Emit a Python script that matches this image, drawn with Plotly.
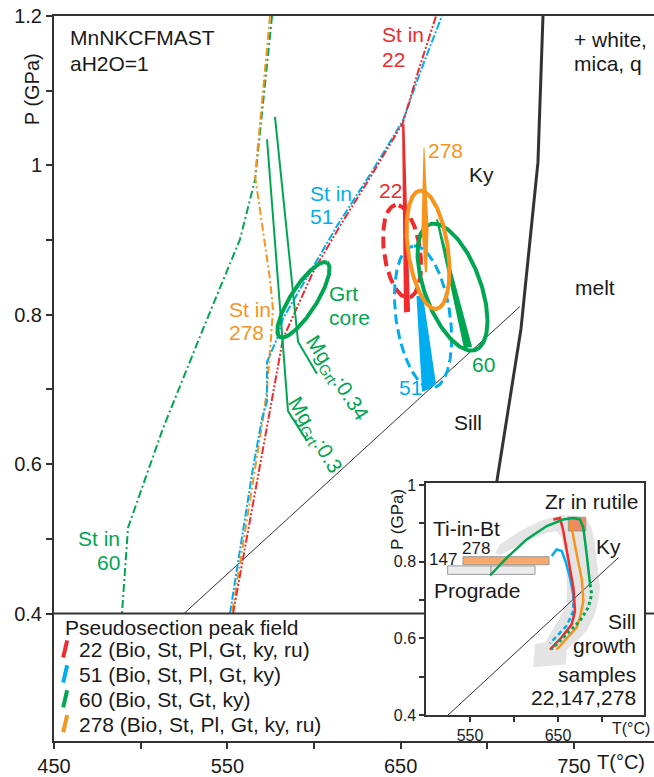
import numpy as np
import plotly.graph_objects as go

# ---------------- data (T in °C, P in GPa) ----------------
# staurolite-in curves
st22_T = [553.3, 582.1, 599.4, 615.0, 633.5, 651.3, 660.0, 670.4]
st22_P = [0.40, 0.768, 0.857, 0.919, 0.988, 1.057, 1.125, 1.20]
st51_T = [551.5, 564.8, 570.0, 572.9, 572.9, 578.7, 582.1, 598.8, 613.8, 633.5, 651.3, 662.3, 673.8]
st51_P = [0.40, 0.595, 0.661, 0.684, 0.737, 0.768, 0.795, 0.861, 0.921, 0.992, 1.060, 1.131, 1.20]
st278_T = [574.6, 570.0, 566.0, 567.1, 570.6, 574.6, 576.3, 575.2, 572.9, 570.6, 552.7]
st278_P = [1.20, 1.088, 0.985, 0.968, 0.911, 0.848, 0.808, 0.768, 0.701, 0.661, 0.40]
st60_T = [575.8, 570.6, 566.0, 557.3, 536.0, 512.9, 492.7, 489.2]
st60_P = [1.20, 1.088, 0.981, 0.901, 0.781, 0.648, 0.515, 0.40]

# garnet Mg isopleths
mg034_T = [577.5, 590.8, 601.7]
mg034_P = [1.065, 0.764, 0.721]
mg030_T = [572.9, 585.0, 596.0]
mg030_P = [1.035, 0.671, 0.631]

# melt-in and Ky/Sill boundaries
melt_T = [732.1, 729.2, 719.4, 705.3]
melt_P = [1.20, 1.004, 0.781, 0.574]
kysill_T = [525.0, 718.8]
kysill_P = [0.40, 0.811]

# peak-field wedges (polygons)
bar22_T = [650.8, 652.2, 655.4, 651.9]
bar22_P = [1.055, 1.055, 0.804, 0.803]
bar278_T = [663.2, 663.7, 666.1, 665.2, 664.0, 662.0]
bar278_P = [1.024, 1.024, 0.915, 0.857, 0.857, 0.915]
bar60_T = [670.4, 671.5, 691.2, 686.5]
bar60_P = [0.928, 0.928, 0.757, 0.755]
bar51_T = [659.1, 662.9, 670.4, 665.8, 662.3]
bar51_P = [0.825, 0.825, 0.707, 0.700, 0.697]

# ellipses: centre T, centre P, semi-major, semi-minor (°C equivalent), tilt (deg)
ell_grt = (593.9, 0.820, 25.5, 7.5, 57.5)
ell_22 = (650.8, 0.885, 27.1, 10.4, 98.0)
ell_278 = (665.8, 0.887, 34.6, 11.5, 98.0)
ell_60 = (679.9, 0.837, 38.7, 16.2, 110.0)
ell_51 = (662.9, 0.797, 41.5, 15.6, 98.0)

# legend rows
leg_labels = ["22 (Bio, St, Pl, Gt, ky, ru)", "51 (Bio, St, Pl, Gt, ky)",
              "60 (Bio, St, Gt, ky)", "278 (Bio, St, Pl, Gt, ky, ru)"]
leg_P = [0.352, 0.3187, 0.2853, 0.252]

# ---------------- inset data ----------------
in22_T = [644.7, 652.3, 656.0, 661.7, 667.4, 669.3, 665.6, 654.2, 640.9]
in22_P = [0.910, 0.914, 0.880, 0.802, 0.733, 0.672, 0.637, 0.603, 0.571]
in278_T = [663.6, 665.6, 671.3, 677.0, 678.8, 675.0, 671.3, 659.9, 648.5]
in278_P = [0.906, 0.888, 0.819, 0.754, 0.698, 0.655, 0.629, 0.600, 0.571]
in51_T = [642.8, 648.5, 654.2, 659.1, 663.6, 667.4]
in51_P = [0.815, 0.832, 0.828, 0.797, 0.758, 0.714]
in51d_T = [667.4, 667.4, 660.2, 650.0, 640.9]
in51d_P = [0.714, 0.672, 0.634, 0.608, 0.587]
in60_T = [572.7, 591.7, 614.4, 637.2, 655.7, 667.4, 675.0, 678.8, 682.6, 686.4]
in60_P = [0.764, 0.810, 0.858, 0.893, 0.910, 0.914, 0.910, 0.888, 0.819, 0.741]
in60d_T = [686.4, 688.3, 684.4, 675.0, 659.9, 642.8]
in60d_P = [0.741, 0.715, 0.681, 0.646, 0.611, 0.572]

band_T = [578.4, 584.1, 606.8, 629.5, 652.3, 671.3, 682.6, 688.3, 692.0, 695.8, 697.7, 695.8,
          692.0, 682.6, 671.3, 660.0, 659.0, 621.5, 624.0, 635.2, 643.2, 652.3, 659.9, 659.9,
          658.0, 654.2, 648.5, 637.2, 618.2, 599.2, 584.1]
band_P = [0.823, 0.845, 0.880, 0.906, 0.921, 0.919, 0.910, 0.888, 0.845, 0.776, 0.733, 0.698,
          0.663, 0.620, 0.594, 0.571, 0.532, 0.525, 0.585, 0.590, 0.621, 0.655, 0.689, 0.758,
          0.819, 0.862, 0.880, 0.875, 0.858, 0.836, 0.817]

tibt278_T = [542.0, 639.8]
tibt278_P = [0.792, 0.813]
tibt147a_T = [524.6, 573.9]
tibt147b_T = [573.9, 623.9]
tibt147_P = [0.767, 0.789]
zr_T = [661.7, 681.5]
zr_P = [0.880, 0.916]

# ---------------- styling ----------------
RED = "#EF2B2D"
BLUE = "#00AEEF"
GREEN = "#00A651"
ORANGE = "#F7941D"
DARK = "#333333"
FONT = "Arial, Liberation Sans, Helvetica, sans-serif"
FS = 21

W, H = 654, 777
ML, MR, MT, MB = 54, 0, 16, 33
PW, PH = W - ML - MR, H - MT - MB
x_range = [450, 796.15]
y_range = [0.2293, 1.2]
kx = PW / (x_range[1] - x_range[0])
ky = PH / (y_range[1] - y_range[0])

fig = go.Figure()


def line(T, P, color, width=2, dash="solid", xa="x", ya="y"):
    fig.add_trace(go.Scatter(x=T, y=P, mode="lines", xaxis=xa, yaxis=ya,
                             line=dict(color=color, width=width, dash=dash),
                             hoverinfo="skip", showlegend=False))


def poly(T, P, color, xa="x", ya="y", lc=None, lw=0):
    fig.add_trace(go.Scatter(x=list(T) + [T[0]], y=list(P) + [P[0]], mode="lines",
                             xaxis=xa, yaxis=ya, fill="toself", fillcolor=color,
                             line=dict(color=lc or color, width=lw),
                             hoverinfo="skip", showlegend=False))


def rect(T2, P2, color, xa="x2", ya="y2"):
    poly([T2[0], T2[1], T2[1], T2[0]], [P2[0], P2[0], P2[1], P2[1]], color,
         xa, ya, lc="#9a9a9a", lw=1)


def ellipse(e, color, width=4, dash="solid"):
    tc, pc, a, b, ang = e
    t = np.linspace(0, 2 * np.pi, 200)
    th = np.radians(ang)
    ap, bp = a * kx, b * kx
    dx = ap * np.cos(t) * np.cos(th) - bp * np.sin(t) * np.sin(th)
    dy = ap * np.cos(t) * np.sin(th) + bp * np.sin(t) * np.cos(th)
    line(tc + dx / kx, pc + dy / ky, color, width, dash)


# main boundaries
line(kysill_T, kysill_P, DARK, 1)
line(melt_T, melt_P, DARK, 3)

# St-in lines
line(st60_T, st60_P, GREEN, 2, "8px,3px,2px,3px")
line(st278_T, st278_P, ORANGE, 2, "8px,3px,2px,3px")
line(st51_T, st51_P, BLUE, 2, "8px,2px,2px,2px")
line(st22_T, st22_P, RED, 2, "8px,2px,2px,2px,2px,2px")

# Mg isopleths
line(mg034_T, mg034_P, GREEN, 2)
line(mg030_T, mg030_P, GREEN, 2)

# garnet core ellipse
ellipse(ell_grt, GREEN, 4)

# peak fields
ellipse(ell_22, RED, 4, "12px,6px")
ellipse(ell_51, BLUE, 3, "10px,5px")
poly(bar51_T, bar51_P, BLUE)
poly(bar22_T, bar22_P, RED)
ellipse(ell_60, GREEN, 4)
poly(bar60_T, bar60_P, GREEN)
ellipse(ell_278, ORANGE, 4)
poly(bar278_T, bar278_P, ORANGE)

# legend glyphs
for Pc, c in zip(leg_P, [RED, BLUE, GREEN, ORANGE]):
    line([455.3, 457.6], [Pc - 0.011, Pc + 0.012], c, 4)

# ---------------- inset ----------------
poly(band_T, band_P, "#e4e4e4", "x2", "y2")
line(kysill_T, kysill_P, DARK, 1, xa="x2", ya="y2")
rect(tibt147a_T, tibt147_P, "#ececec")
rect(tibt147b_T, tibt147_P, "#ececec")
rect(tibt278_T, tibt278_P, "#F7A86C")
rect(zr_T, zr_P, "#EE8A66")
line(in51_T, in51_P, BLUE, 2.5, xa="x2", ya="y2")
line(in51d_T, in51d_P, BLUE, 2.5, "5px,3px", xa="x2", ya="y2")
line(in22_T, in22_P, RED, 2.5, xa="x2", ya="y2")
line(in278_T, in278_P, ORANGE, 2.5, xa="x2", ya="y2")
line(in60_T, in60_P, GREEN, 2.5, xa="x2", ya="y2")
line(in60d_T, in60d_P, GREEN, 3, "dot", xa="x2", ya="y2")

# ---------------- annotations ----------------
anns = []


def ann(text, x, y, color="#1a1a1a", size=FS, xanchor="center", xref="x", yref="y", angle=0):
    anns.append(dict(text=text, x=x, y=y, xref=xref, yref=yref, showarrow=False,
                     xanchor=xanchor, yanchor="middle", textangle=angle,
                     font=dict(family=FONT, size=size, color=color)))


ann("MnNKCFMAST", 458.1, 1.1713, xanchor="left")
ann("aH2O=1", 458.1, 1.137, xanchor="left")
ann("+ white,", 748.8, 1.168, xanchor="left")
ann("mica, q", 748.8, 1.137, xanchor="left")
ann("St in", 638.1, 1.1747, RED, xanchor="left")
ann("22", 638.1, 1.1413, RED, xanchor="left")
ann("Ky", 696.9, 0.988)
ann("melt", 762.1, 0.836)
ann("Sill", 688.8, 0.656)
ann("St in", 596.5, 0.9627, BLUE, xanchor="left")
ann("51", 596.5, 0.932, BLUE, xanchor="left")
ann("St in", 549.8, 0.8073, ORANGE, xanchor="left")
ann("278", 549.8, 0.776, ORANGE, xanchor="left")
ann("St in", 489.2, 0.50, GREEN, xanchor="right")
ann("60", 489.2, 0.468, GREEN, xanchor="right")
ann("Grt", 607.5, 0.828, GREEN, xanchor="left")
ann("core", 607.5, 0.796, GREEN, xanchor="left")
ann("22", 644.4, 0.9667, RED)
ann("278", 675.6, 1.02, ORANGE)
ann("51", 655.4, 0.7027, BLUE)
ann("60", 697.5, 0.7333, GREEN)
ann("Mg<sub>Grt</sub>:0.34", 612.7, 0.7147, GREEN, angle=57)
ann("Mg<sub>Grt</sub>:0.3", 600.0, 0.6387, GREEN, angle=59)
ann("Pseudosection peak field", 455.2, 0.3813, xanchor="left")
for lab, Pc in zip(leg_labels, leg_P):
    ann(lab, 463.3, Pc, xanchor="left")

ann("P (GPa)", -0.0375, 0.8984, size=20, xref="paper", yref="paper", angle=-90)
ann("T(°C)", 0.9458, -0.0288, size=20, xref="paper", yref="paper")
ann("P (GPa)", 0.5733, 0.3063, size=17, xref="paper", yref="paper", angle=-90)
ann("T(°C)", 0.9617, 0.0172, size=16, xref="paper", yref="paper")

ann("Zr in rutile", 687.5, 0.9558, xref="x2", yref="y2")
ann("Ti-in-Bt", 545.5, 0.8857, xref="x2", yref="y2")
ann("278", 556.8, 0.8338, size=17, xref="x2", yref="y2")
ann("147", 519.3, 0.8052, size=17, xref="x2", yref="y2")
ann("Prograde", 558.0, 0.7247, xref="x2", yref="y2")
ann("Ky", 706.8, 0.839, xref="x2", yref="y2")
ann("Sill", 740.9, 0.6442, xanchor="right", xref="x2", yref="y2")
ann("growth", 740.9, 0.5818, xanchor="right", xref="x2", yref="y2")
ann("samples", 740.9, 0.5065, xanchor="right", xref="x2", yref="y2")
ann("22,147,278", 740.9, 0.4468, xanchor="right", xref="x2", yref="y2")

ax_common = dict(showgrid=False, zeroline=False, showline=True, ticks="outside",
                 tickcolor=DARK, linecolor=DARK, color="#1a1a1a")

fig.update_layout(
    width=W, height=H, margin=dict(l=ML, r=MR, t=MT, b=MB),
    paper_bgcolor="white", plot_bgcolor="white", showlegend=False,
    font=dict(family=FONT, color="#1a1a1a"),
    xaxis=dict(range=x_range, tickvals=[450, 500, 550, 600, 650, 700, 750],
               ticktext=["450", "", "550", "", "650", "", "750"], ticklen=6, tickwidth=2,
               linewidth=2, mirror=True, tickfont=dict(size=20), **ax_common),
    yaxis=dict(range=y_range, tickvals=[0.4, 0.5, 0.6, 0.7, 0.8, 0.9, 1.0, 1.1, 1.2],
               ticktext=["0.4", "", "0.6", "", "0.8", "", "1", "", "1.2"], ticklen=6,
               tickwidth=2, linewidth=2, tickfont=dict(size=20), **ax_common),
    xaxis2=dict(domain=[0.62, 0.98333], range=[500, 747.7], anchor="y2",
                tickvals=[550, 600, 650, 700], ticktext=["550", "", "650", ""],
                ticklen=5, tickwidth=1.5, linewidth=1.5, mirror=True,
                tickfont=dict(size=16), **ax_common),
    yaxis2=dict(domain=[0.03571, 0.35577], range=[0.4, 1.005], anchor="x2",
                tickvals=[0.4, 0.5, 0.6, 0.7, 0.8, 0.9, 1.0],
                ticktext=["0.4", "", "0.6", "", "0.8", "", "1"],
                ticklen=5, tickwidth=1.5, linewidth=1.5, mirror=True,
                tickfont=dict(size=16), **ax_common),
    annotations=anns,
    shapes=[
        dict(type="line", xref="paper", yref="y", x0=0, x1=0.62, y0=0.4, y1=0.4,
             line=dict(color=DARK, width=2), layer="above"),
        dict(type="line", xref="paper", yref="y", x0=0.98333, x1=1.0, y0=0.4, y1=0.4,
             line=dict(color=DARK, width=2), layer="above"),
    ],
)

fig.write_html("out.html", config={"displayModeBar": False},
               post_script="document.body.style.margin='0px';document.body.style.overflow='hidden';")
